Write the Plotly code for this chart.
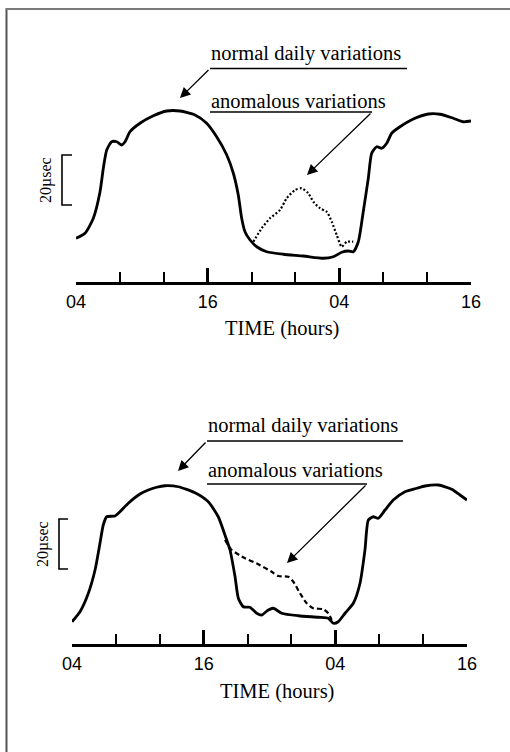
import plotly.graph_objects as go

W, H = 510, 752

# Time axis (hours after 04 h) and delay (microseconds above the time-axis line)
tick_hours = [0, 12, 24, 36]
tick_labels = ["04", "16", "04", "16"]
minor_hours = [4, 8, 16, 20, 28, 32]

# Upper panel: normal daily variation
top_normal_h = [0.0, 0.82, 1.58, 2.19, 2.49, 2.80, 3.25, 3.71, 4.17, 4.47, 4.92, 5.83,
                7.05, 8.27, 9.48, 10.85, 11.91, 12.82, 13.74, 14.34, 14.79, 15.10, 15.40,
                15.86, 16.47, 17.38, 18.89, 20.72, 22.54, 23.45, 24.22, 24.82, 25.27,
                25.73, 26.18, 26.64, 26.95, 27.41, 27.86, 28.32, 28.77, 29.53, 30.74,
                32.11, 33.18, 34.39, 35.30, 36.0]
top_normal_us = [17.5, 19.5, 25.5, 36.1, 45.5, 52.8, 56.1, 56.1, 54.8, 56.1, 60.1, 63.5,
                 66.5, 68.4, 68.4, 66.8, 63.5, 58.1, 50.8, 43.5, 34.8, 25.5, 20.1,
                 16.8, 14.1, 12.1, 11.1, 10.4, 9.5, 10.1, 11.9, 12.4, 12.1,
                 16.1, 28.1, 41.5, 51.5, 54.1, 53.5, 55.5, 59.5, 62.1, 65.2,
                 67.2, 67.1, 65.5, 64.1, 64.4]

# Upper panel: anomalous variation (dotted)
top_anom_h = [16.16, 16.93, 17.68, 18.59, 19.20, 19.96, 20.57, 21.17, 21.63, 22.24,
              22.85, 23.31, 23.76, 24.22, 24.67, 25.27]
top_anom_us = [16.1, 21.5, 25.5, 28.8, 33.5, 36.8, 37.5, 35.5, 32.1, 29.5,
               28.1, 24.1, 18.8, 14.1, 16.1, 16.1]

# Lower panel: normal daily variation
bot_normal_h = [0.0, 0.73, 1.49, 2.10, 2.55, 2.85, 3.16, 3.92, 4.37, 5.13, 6.20, 6.95,
                7.72, 8.48, 9.69, 11.21, 12.42, 13.33, 13.94, 14.40, 14.86, 15.16,
                15.61, 16.22, 16.83, 17.29, 17.89, 18.35, 19.11, 20.63, 22.45, 23.36,
                23.82, 24.27, 24.88, 25.64, 26.25, 26.70, 27.01, 27.46, 27.92, 28.53,
                29.28, 30.35, 31.42, 32.17, 33.39, 34.61, 35.36, 36.0]
bot_normal_us = [8.9, 12.9, 20.3, 29.6, 40.3, 47.6, 50.9, 51.2, 52.9, 56.3, 60.0, 61.6,
                 62.7, 63.3, 62.9, 60.5, 56.9, 50.9, 43.6, 37.6, 26.9, 18.3,
                 14.9, 14.7, 12.3, 11.6, 13.6, 14.3, 12.3, 11.3, 10.7, 10.3,
                 8.3, 8.9, 12.3, 16.3, 24.3, 37.6, 49.6, 50.9, 50.3, 53.6,
                 57.6, 60.9, 62.3, 63.2, 63.6, 61.9, 59.6, 57.6]

# Lower panel: anomalous variation (dashed)
bot_anom_h = [13.94, 14.56, 15.77, 16.98, 18.20, 18.80, 19.71, 20.17, 20.78, 21.39,
              21.99, 22.90, 23.36, 23.67]
bot_anom_us = [41.6, 37.6, 34.3, 31.9, 28.9, 27.2, 26.9, 24.9, 20.3, 16.3,
               14.3, 13.9, 12.3, 9.6]

SERIF = "Liberation Serif, Times New Roman, serif"
SANS = "Liberation Sans, Arial, sans-serif"


def fx(x):
    return x / W


def fy(y):
    return 1 - y / H


fig = go.Figure()

fig.add_trace(go.Scatter(x=top_normal_h, y=top_normal_us, mode="lines",
                         line=dict(color="black", width=2.8, shape="spline", smoothing=0.6),
                         xaxis="x", yaxis="y", hoverinfo="skip"))
fig.add_trace(go.Scatter(x=top_anom_h, y=top_anom_us, mode="lines",
                         line=dict(color="black", width=2.2, dash="2px,2px", shape="spline", smoothing=0.6),
                         xaxis="x", yaxis="y", hoverinfo="skip"))
fig.add_trace(go.Scatter(x=bot_normal_h, y=bot_normal_us, mode="lines",
                         line=dict(color="black", width=2.8, shape="spline", smoothing=0.6),
                         xaxis="x2", yaxis="y2", hoverinfo="skip"))
fig.add_trace(go.Scatter(x=bot_anom_h, y=bot_anom_us, mode="lines",
                         line=dict(color="black", width=2.2, dash="5px,3px", shape="spline", smoothing=0.6),
                         xaxis="x2", yaxis="y2", hoverinfo="skip"))

xaxis_common = dict(
    range=[0, 36], automargin=False, showgrid=False, zeroline=False, showline=True,
    linecolor="black", linewidth=3, ticks="inside", ticklen=14, tickwidth=3,
    tickcolor="black", tickmode="array", tickvals=tick_hours, ticktext=tick_labels,
    tickfont=dict(family=SANS, size=18, color="black"), ticklabelstandoff=1,
    minor=dict(tickmode="array", tickvals=minor_hours, ticks="inside", ticklen=10,
               tickwidth=1.5, tickcolor="black"),
    fixedrange=True,
)
yaxis_common = dict(range=[0, 76.8], visible=False, automargin=False, fixedrange=True)

fig.update_layout(
    width=W, height=H, margin=dict(l=0, r=0, t=0, b=0),
    paper_bgcolor="white", plot_bgcolor="rgba(0,0,0,0)", showlegend=False,
    xaxis=dict(domain=[fx(76), fx(471)], anchor="y", **xaxis_common),
    yaxis=dict(domain=[fy(282), fy(90)], anchor="x", **yaxis_common),
    xaxis2=dict(domain=[fx(72), fx(467)], anchor="y2", **xaxis_common),
    yaxis2=dict(domain=[fy(644), fy(452)], anchor="x2", **yaxis_common),
)

shapes = []
line_style = dict(color="black", width=1.4)

# page frame: left rule and top rule (top rule runs off the right edge)
shapes.append(dict(type="path", xref="paper", yref="paper",
                   path=f"M {fx(6.5)},{fy(760)} L {fx(6.5)},{fy(8)}",
                   line=dict(color="#555555", width=2)))
shapes.append(dict(type="path", xref="paper", yref="paper",
                   path=f"M {fx(6)},{fy(9)} L {fx(520)},{fy(9)}",
                   line=dict(color="#7a7a7a", width=2)))

# label underlines
for x0, x1, y in [(210, 407, 68.5), (210, 372, 112), (207, 403, 441), (207, 367, 484)]:
    shapes.append(dict(type="line", xref="paper", yref="paper", x0=fx(x0), x1=fx(x1),
                       y0=fy(y), y1=fy(y), line=line_style))

# 20 microsecond scale brackets (drawn in data units)
for yref, xl, xr, y0 in [("y", 62, 72, 30.8), ("y2", 59, 68, 30.0)]:
    y1 = y0 + 20
    shapes.append(dict(type="path", xref="paper", yref=yref,
                       path=f"M {fx(xr)},{y0} L {fx(xl)},{y0} L {fx(xl)},{y1} L {fx(xr)},{y1}",
                       line=dict(color="black", width=1.6)))

annotations = []


def text(x, y, s, size=20.5, family=SERIF, xanchor="left", angle=0, yref="paper", yval=None):
    annotations.append(dict(
        x=fx(x), y=fy(y) if yval is None else yval, xref="paper", yref=yref, text=s,
        showarrow=False, xanchor=xanchor, yanchor="middle", textangle=angle,
        font=dict(family=family, size=size, color="black")))


def arrow(hx, hy, tx, ty):
    annotations.append(dict(
        x=fx(hx), y=fy(hy), xref="paper", yref="paper", text="", showarrow=True,
        ax=tx - hx, ay=ty - hy, axref="pixel", ayref="pixel",
        arrowhead=2, arrowsize=1.6, arrowwidth=1.3, arrowcolor="black", standoff=0))


# upper panel labels
text(209, 54, "normal daily variations")
text(209, 101, "anomalous variations")
arrow(180, 98, 210, 68.5)
arrow(307, 175, 372, 112)
text(282, 328, "TIME (hours)", xanchor="center")
text(46, 0, "20µsec", size=16, xanchor="center", angle=-90, yref="y", yval=40.8)

# lower panel labels
text(206, 425, "normal daily variations")
text(206, 470, "anomalous variations")
arrow(178, 471, 207, 441)
arrow(287, 563, 367, 484)
text(277, 691, "TIME (hours)", xanchor="center")
text(43, 0, "20µsec", size=16, xanchor="center", angle=-90, yref="y2", yval=40.0)

fig.update_layout(shapes=shapes, annotations=annotations)

fig.write_html("out.html")
